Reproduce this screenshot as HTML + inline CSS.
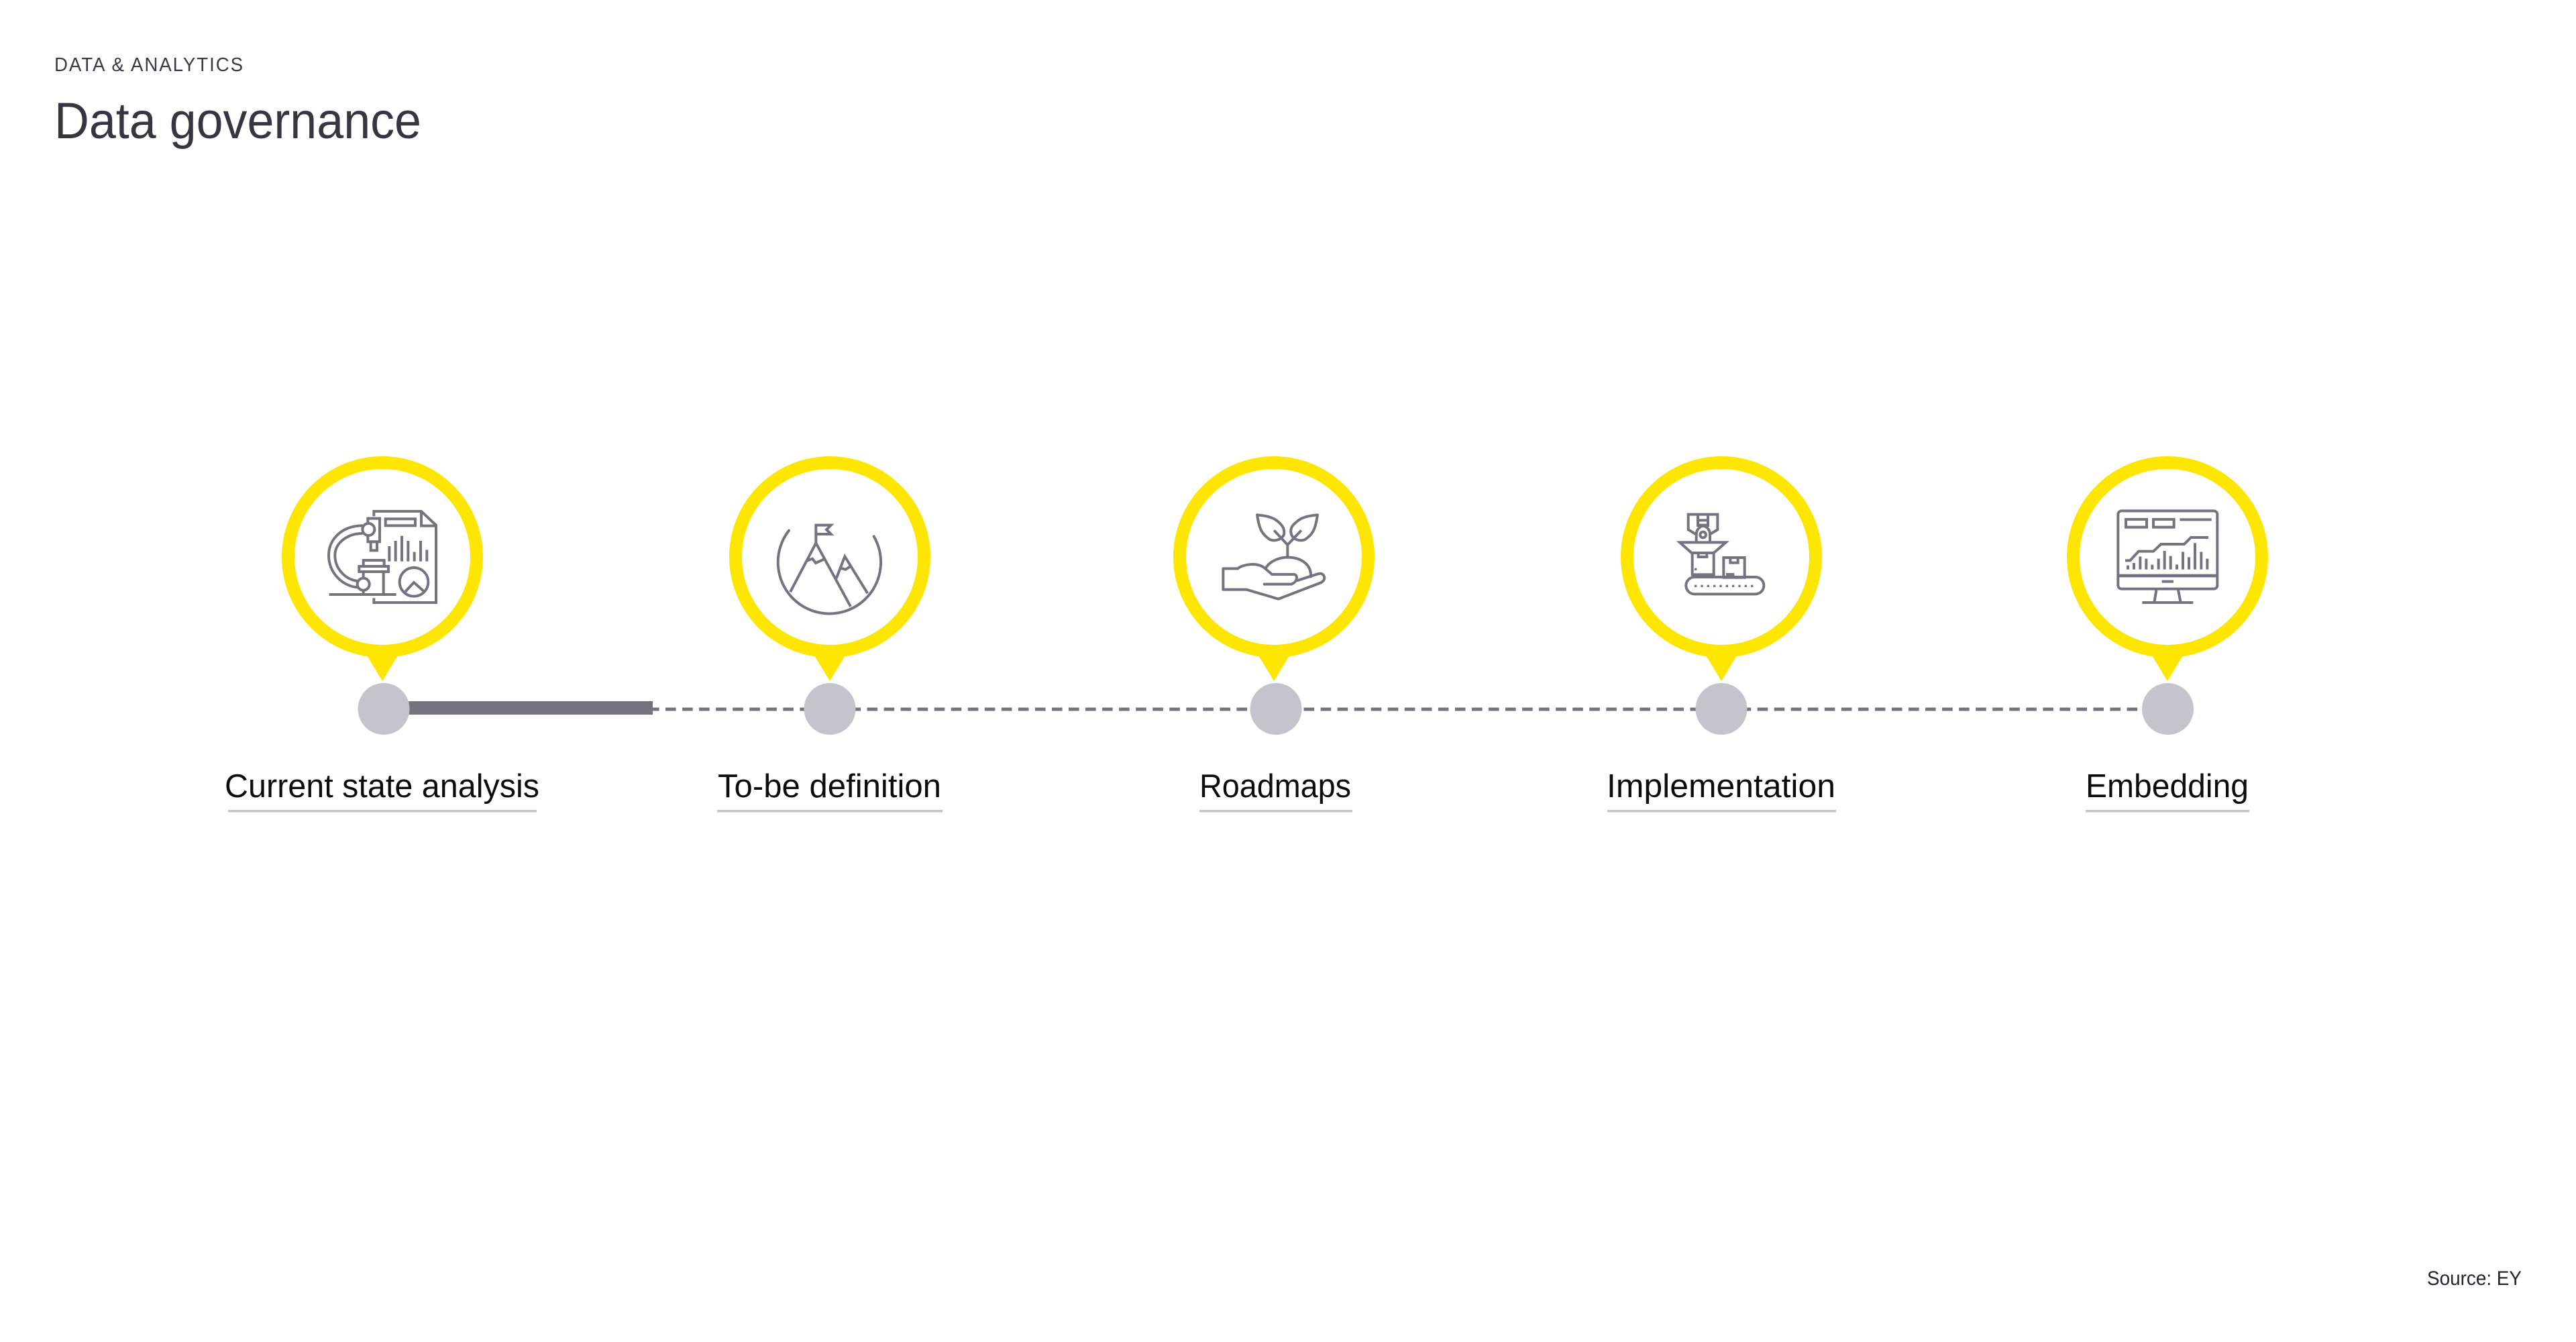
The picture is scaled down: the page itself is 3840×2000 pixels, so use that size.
<!DOCTYPE html>
<html lang="en"><head><meta charset="utf-8"><title>Data governance</title>
<style>
html,body{margin:0;padding:0;background:#fff;width:3840px;height:2000px;overflow:hidden}
svg{display:block}
text{font-family:"Liberation Sans",sans-serif}
.lbl{font-size:49px;fill:#0c0c0c}
.ic{fill:none;stroke:#747480;stroke-width:12}
</style></head><body>
<svg xmlns="http://www.w3.org/2000/svg" width="3840" height="2000" viewBox="0 0 3840 2000">
<rect width="3840" height="2000" fill="#fff"/>
<text x="81" y="106" font-size="29" fill="#3a3a44" textLength="283" lengthAdjust="spacingAndGlyphs" letter-spacing="2">DATA &amp; ANALYTICS</text>
<text x="81" y="206" font-size="76" fill="#363640" textLength="547" lengthAdjust="spacingAndGlyphs">Data governance</text>

<line x1="967" y1="1057" x2="3187" y2="1057" stroke="#747480" stroke-width="5" stroke-dasharray="15.6 9.44"/>
<rect x="605" y="1045" width="368" height="20" fill="#747480"/>

<g fill="#ffe600">
<path d="M544 972L570 1015L596 972Z"/><path d="M1211 972L1237 1015L1263 972Z"/><path d="M1873 972L1899 1015L1925 972Z"/><path d="M2540 972L2566 1015L2592 972Z"/><path d="M3205 972L3231 1015L3257 972Z"/>
</g>
<g fill="#fff" stroke="#ffe600" stroke-width="19">
<circle cx="570" cy="830" r="140.5"/><circle cx="1237" cy="830" r="140.5"/><circle cx="1899" cy="830" r="140.5"/><circle cx="2566" cy="830" r="140.5"/><circle cx="3231" cy="830" r="140.5"/>
</g>
<g fill="#c4c4cd">
<circle cx="572" cy="1056.5" r="38.5"/><circle cx="1237" cy="1056.5" r="38.5"/><circle cx="1902" cy="1056.5" r="38.5"/><circle cx="2566" cy="1056.5" r="38.5"/><circle cx="3231.5" cy="1056.5" r="38.5"/>
</g>

<!-- icon 1 -->
<g class="ic" transform="translate(470 740) scale(.33333)">
<path d="M262 88V66H474L540 128V474H262V454"/><path d="M474 70V131H540"/>
<rect x="314" y="100" width="133" height="30"/>
<path d="M235 120V98H288V202H235V170"/><rect x="248" y="202" width="28" height="39"/>
<circle cx="238" cy="147" r="27"/><circle cx="215" cy="392" r="27"/>
<path d="M212 130C120 130 60 190 60 262C60 340 120 400 188 406"/>
<path d="M212 165C140 165 88 210 88 262C88 320 130 370 190 378"/>
<rect x="215" y="285" width="93" height="27"/><rect x="196" y="312" width="131" height="24"/>
<path d="M305 336V438M215 336V366M215 418V438M62 438H362"/>
<path d="M331 222V290M359 198V290M387 176V290M415 198V290M443 248V290M471 198V290M499 238V290"/>
<circle cx="441" cy="382" r="64"/><path d="M403 425L441 384L487 425"/>
</g>

<!-- icon 2 -->
<g class="ic" transform="translate(1140 770) scale(.33333)">
<path d="M108 62A230 230 0 1 0 488 88" stroke-linecap="round"/>
<path d="M229 118V38H296L276 58L296 78H229"/>
<path d="M114 337L229 118L384 402"/><path d="M187 198L213 188L228 207L266 190"/>
<path d="M320 276L358 178L460 343"/><path d="M340 230L362 236L380 224"/>
</g>

<!-- icon 3 -->
<g class="ic" transform="translate(1800 740) scale(.33333)" stroke-linejoin="round" stroke-linecap="round">
<path d="M222 82C270 86 300 95 322 118C340 135 345 150 342 170C330 195 300 200 280 193C245 170 232 150 222 82Z"/>
<path d="M492 82C445 86 415 95 393 118C372 135 370 150 375 170C385 195 415 200 435 193C470 170 482 150 492 82Z"/>
<path d="M301 155L358 216L416 155M358 216V272"/>
<path d="M260 322C275 290 320 272 358 272C420 272 465 305 462 358"/>
<path d="M135 322H70V416H175L317 458L505 386C525 378 530 355 510 345C500 342 490 348 400 376"/>
<path d="M135 322C160 302 225 292 258 322C270 332 280 340 288 348H385C405 348 405 380 375 392H254"/>
</g>

<!-- icon 4 -->
<g class="ic" transform="translate(2480 740) scale(.33333)">
<path d="M143 168L110 148V80H241V148L208 168"/>
<path d="M153 80V135M198 80V135M153 106H198M155 128H196"/>
<path d="M146 205V170C146 145 165 132 176 132C190 132 207 145 207 170V205"/><circle cx="176" cy="171" r="13"/>
<path d="M72 205H278L224 252H125Z"/>
<rect x="128" y="252" width="96" height="97"/><rect x="155" y="252" width="38" height="18"/>
<rect x="268" y="273" width="94" height="89"/><rect x="298" y="273" width="34" height="23"/><path d="M279 348H316"/>
<rect x="100" y="360" width="348" height="76" rx="38"/>
<g fill="#747480" stroke="none">
<rect x="138" y="320" width="10" height="10"/>
<rect x="138" y="395" width="10" height="10"/><rect x="166" y="395" width="10" height="10"/><rect x="194" y="395" width="10" height="10"/><rect x="222" y="395" width="10" height="10"/><rect x="250" y="395" width="10" height="10"/><rect x="278" y="395" width="10" height="10"/><rect x="306" y="395" width="10" height="10"/><rect x="334" y="395" width="10" height="10"/><rect x="362" y="395" width="10" height="10"/><rect x="390" y="395" width="10" height="10"/>
</g>
</g>

<!-- icon 5 -->
<g class="ic" transform="translate(3130 740) scale(.33333)">
<rect x="82" y="64" width="444" height="349" rx="16"/>
<path d="M82 354H526" stroke-width="14"/><path d="M278 380H330"/>
<path d="M254 413L244 474M350 413L362 474M190 474H418"/>
<rect x="117" y="102" width="93" height="35"/><rect x="240" y="102" width="92" height="35"/><path d="M358 103H500"/>
<path d="M114 286H136L174 245H240L274 213H378L408 183H486"/>
<path d="M126 308V326M153 297V326M181 268V326M208 278V326M235 305V326M263 278V326M290 243V326M317 266V326M345 304V326M372 247V326M399 271V326M426 208V326M454 247V326M481 278V326"/>
</g>

<text class="lbl" x="335" y="1188" textLength="469" lengthAdjust="spacingAndGlyphs">Current state analysis</text>
<text class="lbl" x="1070" y="1188" textLength="333" lengthAdjust="spacingAndGlyphs">To-be definition</text>
<text class="lbl" x="1788" y="1188" textLength="226" lengthAdjust="spacingAndGlyphs">Roadmaps</text>
<text class="lbl" x="2395" y="1188" textLength="341" lengthAdjust="spacingAndGlyphs">Implementation</text>
<text class="lbl" x="3109" y="1188" textLength="243" lengthAdjust="spacingAndGlyphs">Embedding</text>

<g fill="#c4c4cd">
<rect x="340" y="1207" width="460" height="3.5"/><rect x="1069" y="1207" width="336" height="3.5"/><rect x="1788" y="1207" width="228" height="3.5"/><rect x="2396" y="1207" width="341" height="3.5"/><rect x="3109" y="1207" width="244" height="3.5"/>
</g>

<text x="3618" y="1915" font-size="30" fill="#24242c" textLength="141" lengthAdjust="spacingAndGlyphs">Source: EY</text>
</svg>
</body></html>
